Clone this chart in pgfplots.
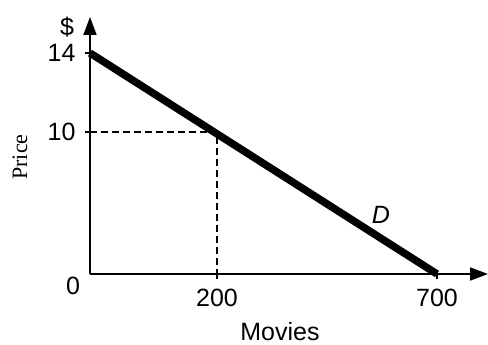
\documentclass[border=0pt]{standalone}
\usepackage{fontspec}
\setmainfont{Liberation Sans}
\newfontfamily\seriffont{Liberation Serif}
\usepackage{pgfplots}
\pgfplotsset{compat=1.18}
\usetikzlibrary{arrows.meta}
\begin{document}
\begin{tikzpicture}
\begin{axis}[
  scale only axis, width=398pt, height=257pt,
  xmin=0, xmax=398, ymin=0, ymax=257,
  axis lines=left,
  axis line style={line width=2pt, -{Triangle[length=18pt,width=13pt]}},
  clip=false,
  xtick={127,347}, xticklabels={200,700},
  ytick={142,221}, yticklabels={10,14},
  tick align=outside, major tick length=5pt,
  tick style={line width=1.5pt, black},
  ticklabel style={font=\fontsize{25}{30}\selectfont},
  /pgf/number format/assume math mode=true,
  xticklabel style={yshift=-7pt},
  yticklabel style={xshift=-6pt},
]
\addplot[line width=7.5pt, black] coordinates {(0,221) (347,0)};
\addplot[line width=1.6pt, black, dash pattern=on 7pt off 4pt] coordinates {(0,142) (127,142) (127,0)};
\node[font=\fontsize{25}{30}\selectfont] at (axis cs:-17,-12) {0};
\node[font=\fontsize{25}{30}\selectfont] at (axis cs:-23,247) {\$};
\node[font=\fontsize{25}{30}\selectfont\itshape] at (axis cs:291,59) {D};
\node[font=\fontsize{25}{30}\selectfont, inner sep=0pt, anchor=base] at (axis cs:190,-67) {Movies};
\node[font=\fontsize{22}{26}\seriffont, rotate=90] at (axis cs:-70,117) {Price};
\coordinate (bl) at (axis cs:-90,-71);
\coordinate (tr) at (axis cs:398,274);
\end{axis}
\pgfresetboundingbox
\path (bl) rectangle (tr);
\end{tikzpicture}
\end{document}
